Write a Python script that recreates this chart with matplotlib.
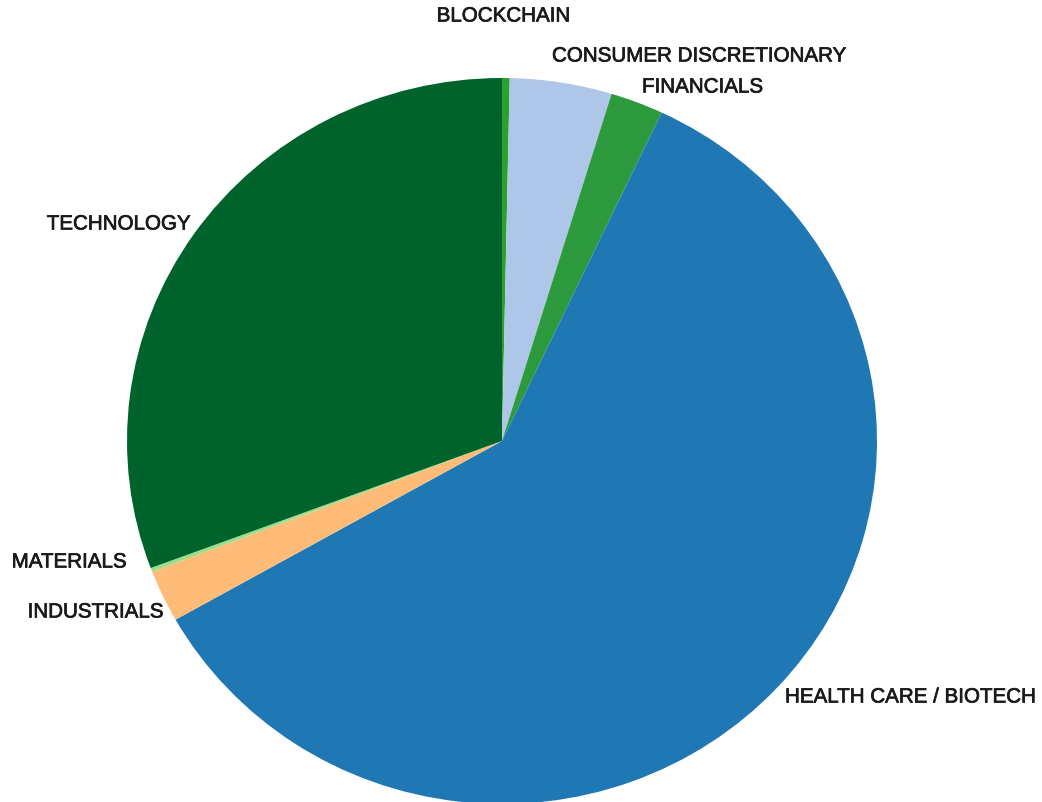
import matplotlib
matplotlib.use("Agg")
import matplotlib.pyplot as plt
import matplotlib.patheffects as pe

# sector weights (%), clockwise from 12 o'clock
sectors = ["BLOCKCHAIN", "CONSUMER DISCRETIONARY", "FINANCIALS",
           "HEALTH CARE / BIOTECH", "INDUSTRIALS", "MATERIALS", "TECHNOLOGY"]
weights = [0.33, 4.39, 2.28, 59.81, 2.33, 0.17, 30.69]
colors = ["#2ca02c", "#aec7e8", "#2e9a3e", "#1f77b4", "#ffbb78", "#98df8a", "#00632b"]

# label anchors in pixels (x, y from top) and alignment
label_pos = [(503, 17, "center"), (552, 57, "left"), (642, 88, "left"),
             (785, 698, "left"), (163, 613, "right"), (126, 563, "right"),
             (190, 225, "right")]

W, H = 1042, 803
fig = plt.figure(figsize=(W / 100, H / 100), dpi=100)
ax = fig.add_axes([127 / W, (H - 805) / H, 750 / W, 726 / H])

ax.pie(weights, colors=colors, startangle=90, counterclock=False,
       wedgeprops=dict(linewidth=0))
ax.set_aspect("auto")
ax.set_xlim(-1, 1)
ax.set_ylim(-1, 1)
ax.axis("off")

# slightly heavier than regular weight, like the source
stroke = [pe.withStroke(linewidth=0.5, foreground="#1a1a1a")]
for name, (x, y, ha) in zip(sectors, label_pos):
    fig.text(x / W, 1 - y / H, name, ha=ha, va="center", fontsize=14.8,
             family="Liberation Sans", color="#1a1a1a", path_effects=stroke)

fig.savefig("out.png", dpi=100, facecolor="white")
